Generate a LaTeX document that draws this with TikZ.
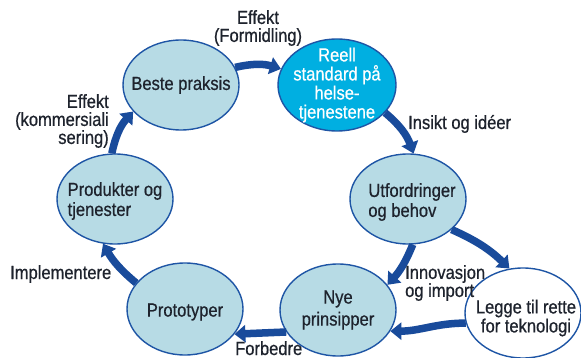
\documentclass[tikz,border=0pt]{standalone}
\usepackage{fontspec}
\setmainfont{Liberation Sans}[FakeStretch=0.87,FakeBold=0.6]
\usetikzlibrary{shapes.geometric,arrows.meta}
\definecolor{bubfill}{RGB}{183,219,229}
\definecolor{bubline}{RGB}{30,85,165}
\definecolor{cyanfill}{RGB}{0,175,225}
\definecolor{arrowc}{RGB}{25,75,155}
\definecolor{ink}{RGB}{30,35,45}
\begin{document}
\begin{tikzpicture}[x=1pt,y=-1pt,
  bub/.style={ellipse,draw=bubline,line width=1.4pt,fill=bubfill,minimum width=116pt,minimum height=90pt,inner sep=0pt},
  txt/.style={font=\fontsize{19}{20}\selectfont,text=ink,inner sep=0pt,align=center},
  lbl/.style={font=\fontsize{19}{18}\selectfont,text=ink,inner sep=0pt,align=center},
  flow/.style={draw=arrowc,line width=7.5pt,-{Triangle[length=11pt,width=17pt]}}]
\useasboundingbox (0,0) rectangle (581,358);
\fill[white] (0,0) rectangle (581,358);
% bubbles
\node[bub] (beste) at (181,85) {};
\node[bub,fill=cyanfill,minimum width=118pt,minimum height=92pt] (reell) at (337,85) {};
\node[bub] (utf) at (408,199) {};
\node[bub,minimum height=92pt] (nye) at (338,310) {};
\node[bub,fill=white] (legge) at (523,313) {};
\node[bub,minimum height=92pt] (proto) at (185,309) {};
\node[bub] (prod) at (115,199) {};
% connectors
\draw[flow] (beste.18) to[bend left=15] (reell.164);
\draw[flow] (reell.-30) to[bend left=15] (utf.83);
\draw[flow] (utf.-35) to[bend left=10] (legge.107);
\draw[flow] (utf.-84) to[bend left=10] (nye.27);
\draw[flow] (legge.-170) to[out=180,in=0] (nye.-22);
\draw[flow] (nye.-157) -- (proto.-27);
\draw[flow] (proto.152) to[bend left=10] (prod.-105);
\draw[flow] (prod.94) to[bend left=15] (beste.-151);
% bubble texts
\node[txt] (tbeste) at (beste) {Beste praksis};
\node[txt,text=white,font=\fontsize{19}{19}\selectfont] (treell) at (reell) {Reell\\standard på\\helse-\\tjenestene};
\node[txt,align=left,xshift=4pt,yshift=-3pt] (tutf) at (utf) {Utfordringer\\og behov};
\node[txt,font=\fontsize{19}{22}\selectfont] (tnye) at (nye) {Nye\\prinsipper};
\node[txt,font=\fontsize{19}{19}\selectfont,xshift=3pt,yshift=-5pt] (tlegge) at (legge) {Legge til rette\\for teknologi};
\node[txt,yshift=-3pt] (tproto) at (proto) {Prototyper};
\node[txt,align=left,yshift=-2pt] (tprod) at (prod) {Produkter og\\tjenester};
% labels
\node[lbl] (l1) at (258,28) {Effekt\\(Formidling)};
\node[lbl,align=right,anchor=east] (l2) at (109,121) {Effekt\\(kommersiali\\sering)};
\node[lbl,anchor=base west] (l3) at (408,129) {Insikt og idéer};
\node[lbl,anchor=base west] (l4) at (10,279) {Implementere};
\node[lbl,align=left,anchor=west] (l5) at (405,283) {Innovasjon\\og import};
\node[lbl,anchor=base west] (l6) at (235,355) {Forbedre};
\end{tikzpicture}
\end{document}
